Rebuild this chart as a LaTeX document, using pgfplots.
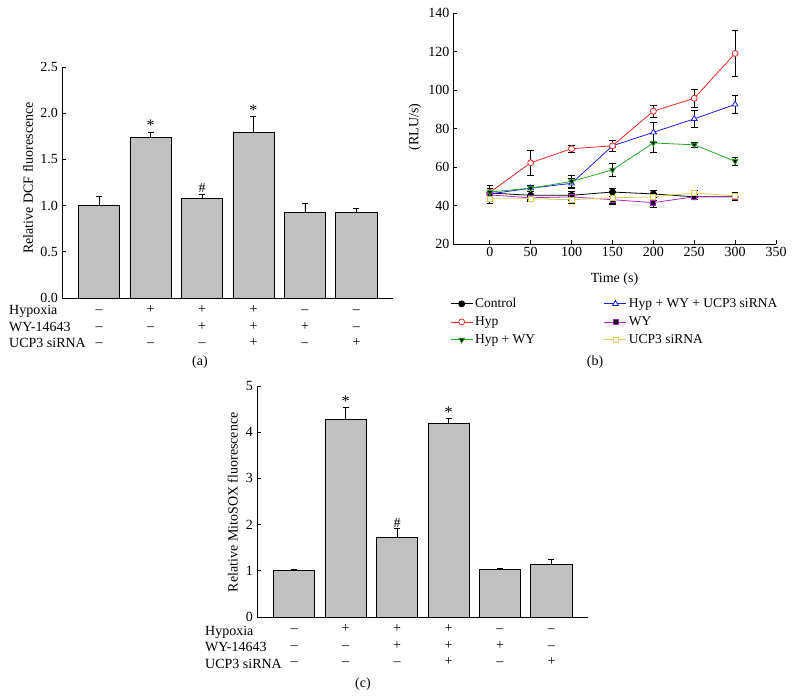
\documentclass[border=0pt]{standalone}
\usepackage{fontspec}
\setmainfont{Liberation Serif}
\usepackage{pgfplots}
\usepackage{pgfplotstable}
\pgfplotsset{compat=1.18}
\definecolor{barfill}{RGB}{192,192,192}
\definecolor{cred}{RGB}{230,40,40}
\definecolor{cblue}{RGB}{30,30,230}
\definecolor{cgreen}{RGB}{40,170,40}
\definecolor{cmag}{RGB}{170,40,190}
\definecolor{cyel}{RGB}{215,205,90}
\newcommand{\fs}{\fontsize{14}{16.5}\selectfont}
\newcommand{\fl}{\fontsize{13.5}{16.5}\selectfont}
\newcommand{\fst}{\fontsize{16}{16.5}\selectfont}

\pgfplotstableread{
x y e
0 1.00 0.10
1 1.735 0.06
2 1.08 0.045
3 1.79 0.17
4 0.93 0.09
5 0.93 0.045
}\dcf
\pgfplotstableread{
x y e
0 1.01 0.01
1 4.27 0.27
2 1.73 0.18
3 4.18 0.12
4 1.02 0.03
5 1.14 0.10
}\mitosox
\pgfplotstableread{
x y e
0 46.5 2.5
50 45.3 2.0
100 45.3 2.0
150 47.0 2.0
200 46.0 2.0
250 44.5 1.5
300 44.5 2.0
}\control
\pgfplotstableread{
x y e
0 46.8 3.5
50 62.2 6.5
100 69.5 1.8
150 71.0 3.0
200 89.0 3.0
250 95.7 4.6
300 119.0 12.0
}\hyp
\pgfplotstableread{
x y e
0 47.0 2.0
50 49.0 1.5
100 52.5 3.0
150 58.5 3.5
200 72.5 5.0
250 71.5 1.2
300 63.0 2.0
}\hypwy
\pgfplotstableread{
x y e
0 46.0 2.0
50 49.0 1.5
100 51.5 2.5
150 71.0 3.0
200 78.0 5.0
250 85.0 4.5
300 92.5 4.5
}\hwu
\pgfplotstableread{
x y e
0 45.5 2.0
50 44.0 1.5
100 44.5 2.0
150 43.0 2.0
200 41.5 2.5
250 44.5 1.5
300 44.5 2.0
}\wy
\pgfplotstableread{
x y e
0 43.5 2.5
50 43.5 1.5
100 43.0 2.0
150 44.0 3.5
200 44.5 2.0
250 46.5 1.5
300 45.0 2.0
}\ucp
\pgfplotsset{
  panel/.style={
    scale only axis,
    axis x line=bottom, axis y line=left,
    axis line style={-, line width=0.9pt},
    /pgf/number format/assume math mode=true,
    tick label style={font=\fs},
    label style={font=\fs},
    tick style={black, line width=0.8pt},
    major tick length=4pt,
    tick align=inside,
  },
  barpanel/.style={
    panel, ybar,
    width=331pt, height=231pt,
    xmin=-0.72, xmax=5.71, ymin=0,
    xtick={0,...,5},
    major x tick style={draw=none},
    yticklabel style={inner sep=1pt, xshift=-3pt},
    xticklabel style={align=center, anchor=north, inner sep=0pt, yshift=0pt, font=\fs},
    xticklabels={{\strut –\\\strut –\\\strut –},{\strut +\\\strut –\\\strut –},{\strut +\\\strut +\\\strut –},{\strut +\\\strut +\\\strut +},{\strut –\\\strut +\\\strut –},{\strut –\\\strut –\\\strut +}},
  },
  barplot/.style={fill=barfill, draw=black, line width=0.8pt, bar width=0.8,
    /pgfplots/error bars/y dir=plus, /pgfplots/error bars/y explicit,
    /pgfplots/error bars/error bar style={black, line width=0.8pt},
    /pgfplots/error bars/error mark options={rotate=90, mark size=3pt, black, line width=0.8pt}},
  lineplot/.style={line width=0.8pt, mark options={draw=black, solid, line width=0.7pt},
    /pgfplots/error bars/y dir=both, /pgfplots/error bars/y explicit,
    /pgfplots/error bars/error bar style={black, line width=0.7pt},
    /pgfplots/error bars/error mark options={rotate=90, mark size=3.3pt, black, line width=0.7pt}},
}
\tikzset{rowlab/.style={font=\fs, anchor=base west, inner sep=0pt}}
\begin{document}
\begin{tikzpicture}
\useasboundingbox (0,0) rectangle (792pt,696pt);
% ---------- (a)
\begin{axis}[barpanel, at={(62pt,398pt)}, anchor=south west,
  ymax=2.5, ytick={0,0.5,1,1.5,2,2.5},
  yticklabel style={/pgf/number format/.cd, fixed, fixed zerofill, precision=1},
  ylabel={Relative DCF fluorescence},
  ylabel style={at={(axis description cs:-0.103,0.52)}, anchor=center}]
\addplot[barplot] table[x=x, y=y, y error=e] {\dcf};
\node[font=\fst, anchor=south, inner sep=1pt] at (axis cs:1,1.795) {*};
\node[font=\fs, anchor=south, inner sep=1.5pt] at (axis cs:2,1.125) {\#};
\node[font=\fst, anchor=south, inner sep=1pt] at (axis cs:3,1.96) {*};
\end{axis}
\node[rowlab] at (9pt,381pt) {Hypoxia};
\node[rowlab] at (9pt,364.5pt) {WY-14643};
\node[rowlab] at (9pt,348pt) {UCP3 siRNA};
\node[font=\fs] at (200pt,334pt) {(a)};
% ---------- (b)
\begin{axis}[panel, at={(453pt,452pt)}, anchor=south west,
  width=323pt, height=231pt,
  xmin=-45, xmax=350, ymin=20, ymax=140,
  xtick={0,50,...,350}, ytick={20,40,...,140},
  xlabel={Time (s)}, ylabel={(RLU/s)},
  xlabel style={at={(axis description cs:0.5,-0.153)}, anchor=center},
  ylabel style={at={(axis description cs:-0.118,0.506)}, anchor=center},
  legend columns=2,
  legend cell align=left,
  legend image code/.code={\draw[mark repeat=2, mark phase=2, #1] plot coordinates {(0pt,0pt) (11pt,0pt) (22pt,0pt)};},
  legend style={at={(axis description cs:-0.009,-0.226)}, anchor=north west,
    draw=none, fill=none, inner sep=0pt, font=\fl, row sep=3.5pt},
]
\addplot[lineplot, black, mark=*, mark size=3pt, mark options={fill=black}] table[x=x, y=y, y error=e] {\control};
\addlegendentry{\makebox[127pt][l]{Control}}
\addplot[lineplot, cblue, mark=triangle*, mark size=3.3pt, mark options={fill=white}] table[x=x, y=y, y error=e] {\hwu};
\addlegendentry{Hyp + WY + UCP3 siRNA}
\addplot[lineplot, cred, mark=*, mark size=3pt, mark options={fill=white}] table[x=x, y=y, y error=e] {\hyp};
\addlegendentry{\makebox[127pt][l]{Hyp}}
\addplot[lineplot, cmag, mark=square*, mark size=2.5pt, mark options={fill=black}] table[x=x, y=y, y error=e] {\wy};
\addlegendentry{WY}
\addplot[lineplot, cgreen, mark=triangle*, mark size=3.3pt, mark options={fill=black, rotate=180}] table[x=x, y=y, y error=e] {\hypwy};
\addlegendentry{\makebox[127pt][l]{Hyp + WY}}
\addplot[lineplot, cyel, mark=square*, mark size=2.5pt, mark options={fill=white}] table[x=x, y=y, y error=e] {\ucp};
\addlegendentry{UCP3 siRNA}
\end{axis}
\node[font=\fs] at (595pt,334pt) {(b)};
% ---------- (c)
\begin{axis}[barpanel, at={(257pt,79pt)}, anchor=south west,
  ymax=5, ytick={0,1,...,5},
  ylabel={Relative MitoSOX fluorescence},
  ylabel style={at={(axis description cs:-0.073,0.497)}, anchor=center}]
\addplot[barplot] table[x=x, y=y, y error=e] {\mitosox};
\node[font=\fst, anchor=south, inner sep=1pt] at (axis cs:1,4.54) {*};
\node[font=\fs, anchor=south, inner sep=1.5pt] at (axis cs:2,1.91) {\#};
\node[font=\fst, anchor=south, inner sep=1pt] at (axis cs:3,4.30) {*};
\end{axis}
\node[rowlab] at (205pt,61pt) {Hypoxia};
\node[rowlab] at (205pt,44.5pt) {WY-14643};
\node[rowlab] at (205pt,28pt) {UCP3 siRNA};
\node[font=\fs] at (363pt,12pt) {(c)};
\end{tikzpicture}
\end{document}
